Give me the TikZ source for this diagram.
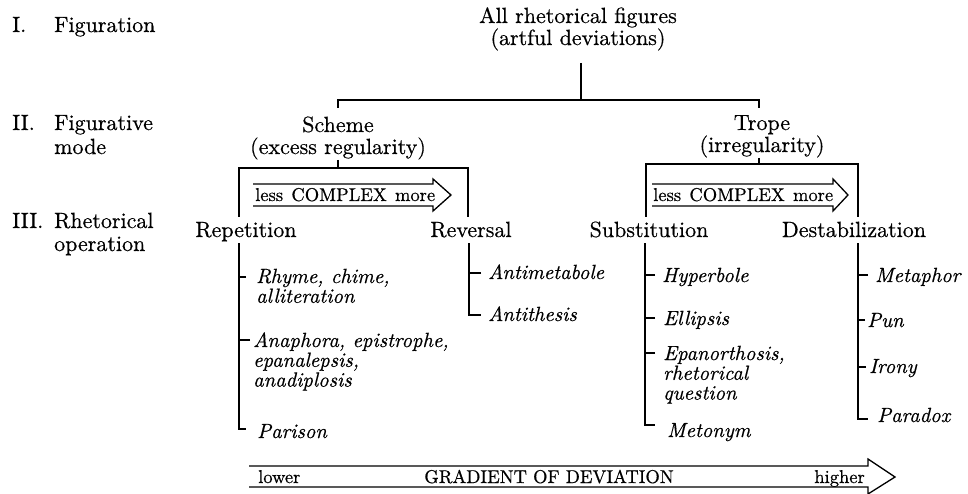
\documentclass[tikz,border=0pt]{standalone}
\usepackage{fontspec}
\setmainfont{lmroman10-regular.otf}[ItalicFont=lmroman10-italic.otf, FakeBold=0.5]
\newcommand\ctr[1]{\vtop{\lineskiplimit=-100pt\halign{\hfil##\hfil\cr#1\crcr}}}
\newcommand\lft[1]{\vtop{\lineskiplimit=-100pt\halign{##\hfil\cr#1\crcr}}}
\begin{document}
\begin{tikzpicture}[x=1pt,y=-1pt,
  lbl/.style={font=\fontsize{22}{22}\selectfont, inner sep=0pt, anchor=base},
  lblw/.style={lbl, anchor=base west},
  itm/.style={font=\fontsize{20.5}{19.8}\selectfont\itshape, inner sep=0pt, anchor=base west},
  cmp/.style={font=\fontsize{18.5}{18.5}\selectfont, inner sep=0pt, anchor=base west},
  grd/.style={font=\fontsize{18.5}{18.5}\selectfont, inner sep=0pt},
  ln/.style={line width=1.4pt},
  harrow/.style={line width=1.3pt, line join=miter}]
\useasboundingbox (0,0) rectangle (968,494);

% level labels
\node[lblw] (n1) at (12,32) {I.};
\node[lblw] (f1) at (54,32) {Figuration};
\node[lblw] (n2) at (12,130) {II.};
\node[lblw, font=\fontsize{22}{24}\selectfont] (f2) at (54,130) {\lft{Figurative\cr mode}};
\node[lblw] (n3) at (12,228) {III.};
\node[lblw, font=\fontsize{22}{23}\selectfont] (f3) at (54,228) {\lft{Rhetorical\cr operation}};

% hierarchy
\node[lbl] (all) at (578,23) {\ctr{All rhetorical figures\cr (artful deviations)}};
\node[lbl] (scheme) at (338,132) {\ctr{Scheme\cr (excess regularity)}};
\node[lbl] (trope) at (762,130) {\ctr{Trope\cr (irregularity)}};

\node[lbl] (rep) at (246,237) {Repetition};
\node[lbl] (rev) at (471,237) {Reversal};
\node[lbl] (sub) at (649,237) {Substitution};
\node[lbl] (des) at (854,237) {Destabilization};

% items
\node[itm] (rhyme) at (256,283) {\lft{Rhyme, chime,\cr alliteration}};
\node[itm] (ana) at (253,347) {\lft{Anaphora, epistrophe,\cr epanalepsis,\cr anadiplosis}};
\node[itm] (par) at (257,438) {Parison};
\node[itm] (amet) at (488,279) {Antimetabole};
\node[itm] (anti) at (488,321) {Antithesis};
\node[itm] (hyp) at (662,282) {Hyperbole};
\node[itm] (ell) at (663,325) {Ellipsis};
\node[itm] (epa) at (663,360) {\lft{Epanorthosis,\cr rhetorical\cr question}};
\node[itm] (met) at (667,437) {Metonym};
\node[itm] (meta) at (875,282) {Metaphor};
\node[itm] (pun) at (867,327) {Pun};
\node[itm] (iro) at (869,373) {Irony};
\node[itm] (para) at (877,422) {Paradox};

% junction coordinates
\coordinate (allDrop) at (581,63);
\coordinate (allJ) at (581,100);
\coordinate (schJ) at (338,100);
\coordinate (trJ) at (759,100);
\coordinate (schTop) at (338,108);
\coordinate (trTop) at (759,108);

\coordinate (schDrop) at (338,160);
\coordinate (schH) at (338,168);
\coordinate (schL) at (239,168);
\coordinate (schR) at (468,168);
\coordinate (repEnd) at (239,217);
\coordinate (revEnd) at (468,217);

\coordinate (trDrop) at (759,158);
\coordinate (trH) at (759,164);
\coordinate (trL) at (646,164);
\coordinate (trR) at (858,164);
\coordinate (subEnd) at (646,217);
\coordinate (desEnd) at (858,217);

\draw[ln] (allDrop) -- (allJ);
\draw[ln] (schTop) -- (schJ) -- (trJ) -- (trTop);
\draw[ln] (schDrop) -- (schH);
\draw[ln] (repEnd) -- (schL) -- (schR) -- (revEnd);
\draw[ln] (trDrop) -- (trH);
\draw[ln] (subEnd) -- (trL) -- (trR) -- (desEnd);

% item brackets
\coordinate (repTop) at (239,243);
\coordinate (revTop) at (469,243);
\coordinate (subTop) at (645,243);
\coordinate (desTop) at (858,243);

\coordinate (tRhyme) at ([shift={(-10pt,6pt)}]rhyme.base west);
\coordinate (tAna) at ([shift={(-3pt,7pt)}]ana.base west);
\coordinate (tPar) at ([shift={(-11pt,9pt)}]par.base west);
\draw[ln] (tRhyme) -- (tRhyme -| repTop);
\draw[ln] (tAna) -- (tAna -| repTop);
\draw[ln] (repTop) |- (tPar);

\coordinate (tAmet) at ([shift={(-7pt,6pt)}]amet.base west);
\coordinate (tAnti) at ([shift={(-7pt,6pt)}]anti.base west);
\draw[ln] (tAmet) -- (tAmet -| revTop);
\draw[ln] (revTop) |- (tAnti);

\coordinate (tHyp) at ([shift={(-7pt,7pt)}]hyp.base west);
\coordinate (tEll) at ([shift={(-8pt,7pt)}]ell.base west);
\coordinate (tEpa) at ([shift={(-8pt,7pt)}]epa.base west);
\coordinate (tMet) at ([shift={(-12pt,12pt)}]met.base west);
\draw[ln] (tHyp) -- (tHyp -| subTop);
\draw[ln] (tEll) -- (tEll -| subTop);
\draw[ln] (tEpa) -- (tEpa -| subTop);
\draw[ln] (subTop) |- (tMet);

\coordinate (tMeta) at ([shift={(-7pt,7pt)}]meta.base west);
\coordinate (tPun) at ([shift={(-2pt,7pt)}]pun.base west);
\coordinate (tIro) at ([shift={(-3pt,6pt)}]iro.base west);
\coordinate (tPara) at ([shift={(-9pt,3pt)}]para.base west);
\draw[ln] (tMeta) -- (tMeta -| desTop);
\draw[ln] (tPun) -- (tPun -| desTop);
\draw[ln] (tIro) -- (tIro -| desTop);
\draw[ln] (desTop) |- (tPara);

% complexity arrows
\draw[harrow] (253,184) -- (433,184) -- (433,179) -- (451,195) -- (433,211) -- (433,206) -- (253,206);
\node[cmp] (cx1) at (255,201) {\makebox[180pt][s]{less COMPLEX more}};
\draw[harrow] (652,184) -- (833,184) -- (833,179) -- (848,195) -- (833,211) -- (833,206) -- (652,206);
\node[cmp] (cx2) at (653,201) {\makebox[180pt][s]{less COMPLEX more}};

% gradient arrow
\draw[harrow] (249,466) -- (868,466) -- (868,459) -- (895,477) -- (868,494) -- (868,487) -- (249,487);
\node[grd, anchor=base west] (lo) at (258,483) {lower};
\node[grd, anchor=base] (gd) at (549,483) {GRADIENT OF DEVIATION};
\node[grd, anchor=base east] (hi) at (865,483) {higher};
\end{tikzpicture}
\end{document}
